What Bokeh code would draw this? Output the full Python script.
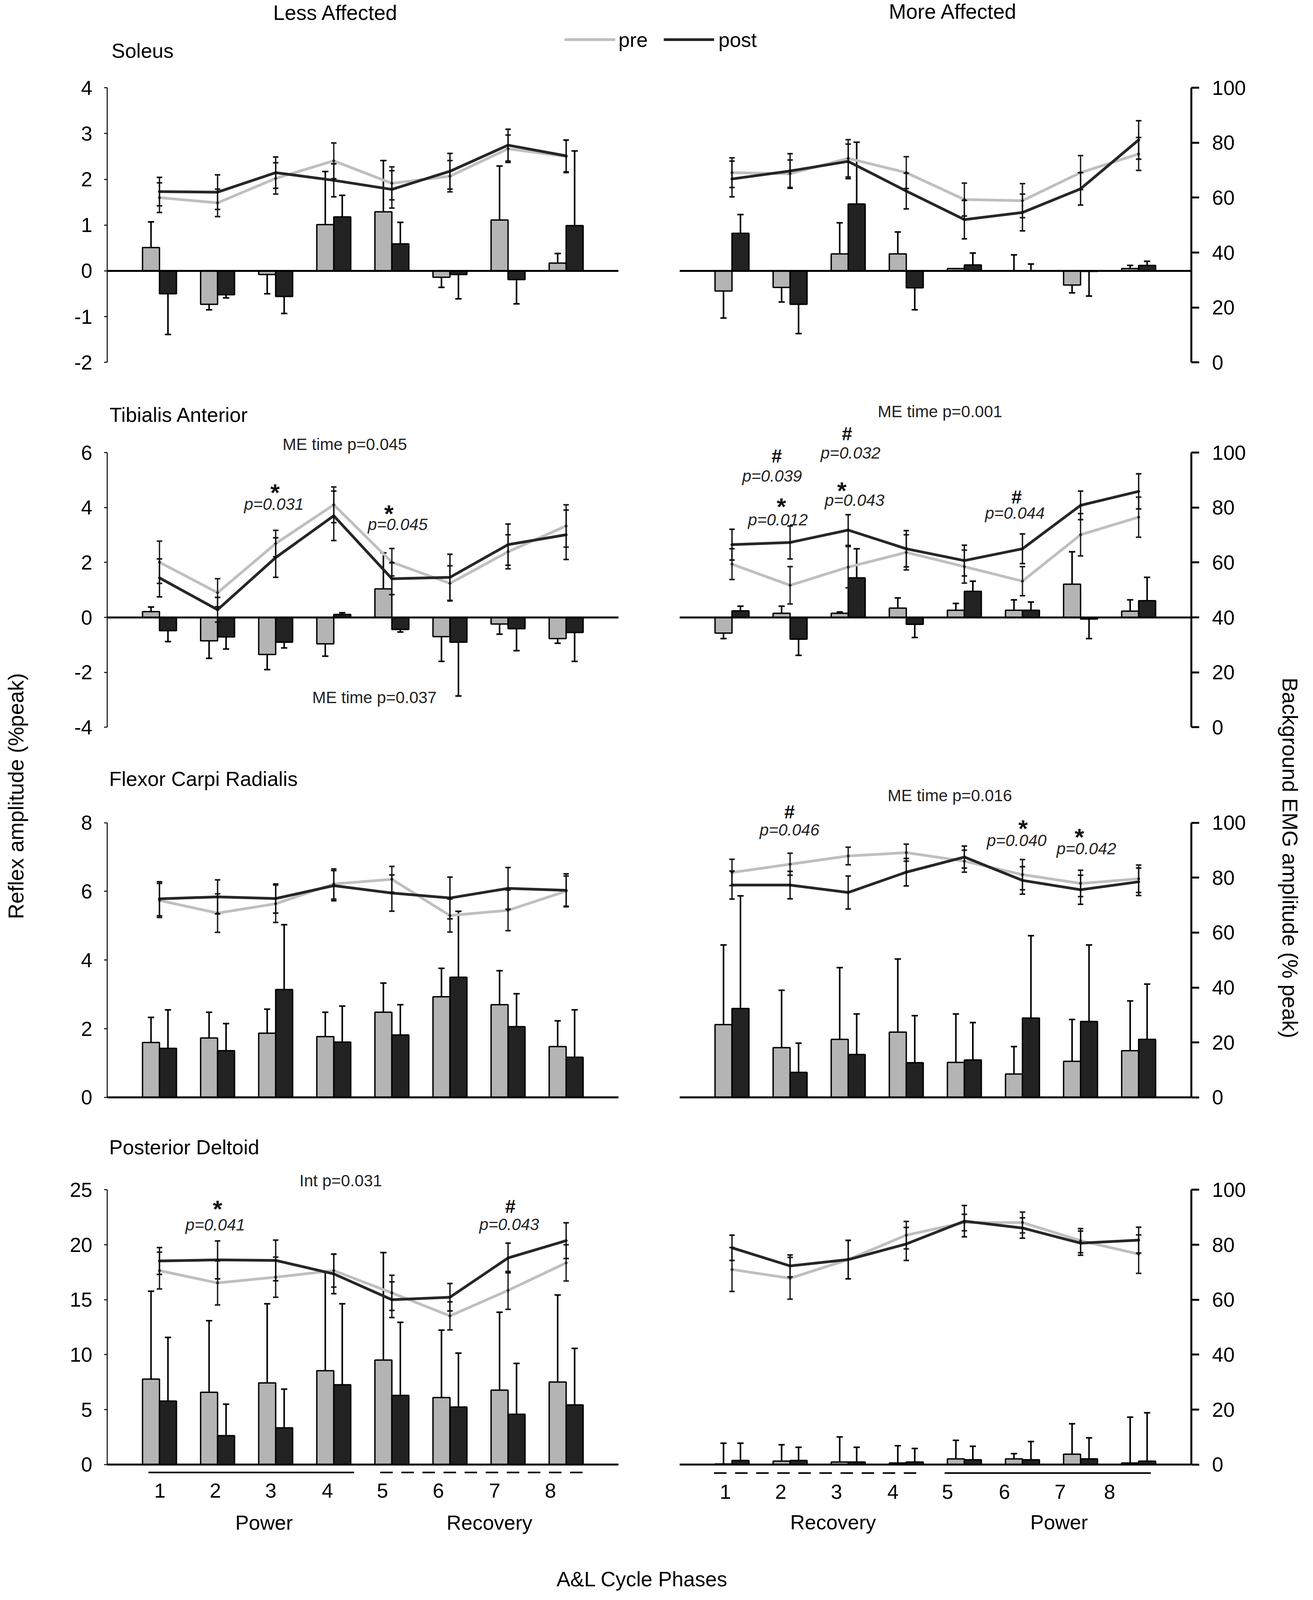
import math
from bokeh.plotting import figure
from bokeh.models import (Range1d, LinearAxis, FixedTicker, Whisker, TeeHead,
                          ColumnDataSource, Label, Arrow)
from bokeh.layouts import row, column
from bokeh.embed import file_html
from bokeh.resources import INLINE

# ---------------- data ----------------
PHASES = [1, 2, 3, 4, 5, 6, 7, 8]
PHASE_LABELS = ["1", "2", "3", "4", "5", "6", "7", "8"]
EMG_TICKS = [0, 20, 40, 60, 80, 100]

# Soleus - less affected
SOL_LA_PRE_BAR = [0.51, -0.73, -0.08, 1.01, 1.29, -0.14, 1.11, 0.17]
SOL_LA_PRE_ERR = [0.56, -0.12, -0.42, 1.16, 1.12, -0.22, 1.18, 0.21]
SOL_LA_POST_BAR = [-0.50, -0.52, -0.56, 1.18, 0.59, -0.08, -0.19, 0.99]
SOL_LA_POST_ERR = [-0.89, -0.07, -0.37, 0.47, 0.47, -0.53, -0.53, 1.63]
SOL_LA_PRE_EMG = [60.0, 58.1, 67.0, 73.4, 65.2, 67.8, 77.8, 75.0]
SOL_LA_PRE_EMG_ERR = [5.4, 5.0, 5.7, 6.5, 6.0, 5.7, 5.0, 5.9]
SOL_LA_POST_EMG = [62.2, 62.0, 69.1, 66.3, 63.0, 69.6, 79.1, 75.2]
SOL_LA_POST_EMG_ERR = [5.2, 6.3, 5.7, 6.0, 6.8, 6.5, 5.8, 5.8]

# Soleus - more affected
SOL_MA_PRE_BAR = [-0.44, -0.36, 0.37, 0.37, 0.05, 0.0, -0.31, 0.05]
SOL_MA_PRE_ERR = [-0.59, -0.32, 0.68, 0.48, 0.0, 0.35, -0.17, 0.07]
SOL_MA_POST_BAR = [0.82, -0.73, 1.46, -0.37, 0.13, 0.0, -0.01, 0.12]
SOL_MA_POST_ERR = [0.41, -0.64, 1.35, -0.48, 0.26, 0.15, -0.54, 0.09]
SOL_MA_PRE_EMG = [69.1, 68.7, 74.3, 69.1, 59.3, 58.9, 69.1, 75.9]
SOL_MA_PRE_EMG_ERR = [5.4, 5.0, 6.8, 5.8, 6.0, 6.2, 6.2, 6.0]
SOL_MA_POST_EMG = [66.8, 69.7, 73.2, 62.4, 52.0, 54.6, 63.2, 81.0]
SOL_MA_POST_EMG_ERR = [6.5, 6.3, 6.3, 6.5, 7.0, 6.7, 5.9, 7.0]

# Tibialis anterior - less affected
TA_LA_PRE_BAR = [0.21, -0.85, -1.35, -0.96, 1.04, -0.70, -0.24, -0.77]
TA_LA_PRE_ERR = [0.17, -0.64, -0.55, -0.45, 1.31, -0.90, -0.37, -0.17]
TA_LA_POST_BAR = [-0.48, -0.71, -0.90, 0.11, -0.44, -0.90, -0.41, -0.55]
TA_LA_POST_ERR = [-0.40, -0.44, -0.21, 0.06, -0.09, -1.96, -0.80, -1.05]
TA_LA_PRE_EMG = [60.1, 49.0, 66.9, 81.0, 60.1, 52.4, 63.9, 73.3]
TA_LA_PRE_EMG_ERR = [7.7, 5.1, 4.8, 6.5, 5.0, 6.4, 6.2, 7.7]
TA_LA_POST_EMG = [54.4, 42.8, 61.8, 77.0, 54.1, 54.6, 66.5, 70.1]
TA_LA_POST_EMG_ERR = [6.9, 4.5, 7.2, 9.0, 5.8, 8.4, 7.5, 9.0]

# Tibialis anterior - more affected
TA_MA_PRE_BAR = [-0.57, 0.15, 0.15, 0.34, 0.26, 0.26, 1.21, 0.23]
TA_MA_PRE_ERR = [-0.20, 0.26, 0.05, 0.37, 0.25, 0.38, 1.18, 0.41]
TA_MA_POST_BAR = [0.24, -0.79, 1.44, -0.25, 0.95, 0.26, -0.06, 0.61]
TA_MA_POST_ERR = [0.17, -0.59, 1.06, -0.48, 0.37, 0.30, -0.71, 0.85]
TA_MA_PRE_EMG = [59.4, 51.7, 58.3, 63.7, 58.5, 53.2, 70.1, 76.5]
TA_MA_PRE_EMG_ERR = [5.6, 6.8, 7.5, 6.4, 6.0, 5.3, 7.7, 7.3]
TA_MA_POST_EMG = [66.5, 67.3, 71.8, 65.0, 60.7, 65.0, 80.8, 85.9]
TA_MA_POST_EMG_ERR = [5.6, 6.0, 5.6, 6.6, 5.6, 5.4, 5.2, 6.4]

# Flexor carpi radialis - less affected
FCR_LA_PRE_BAR = [1.60, 1.73, 1.87, 1.77, 2.48, 2.93, 2.70, 1.48]
FCR_LA_PRE_ERR = [0.73, 0.75, 0.70, 0.71, 0.85, 0.83, 0.99, 0.75]
FCR_LA_POST_BAR = [1.43, 1.36, 3.14, 1.61, 1.82, 3.50, 2.06, 1.17]
FCR_LA_POST_ERR = [1.12, 0.79, 1.89, 1.05, 0.88, 1.92, 0.96, 1.38]
FCR_LA_PRE_EMG = [71.7, 67.1, 70.5, 77.7, 79.4, 66.2, 68.1, 75.1]
FCR_LA_PRE_EMG_ERR = [6.2, 7.0, 6.8, 5.5, 4.7, 6.0, 7.4, 5.5]
FCR_LA_POST_EMG = [72.3, 73.0, 72.4, 77.1, 74.4, 72.6, 76.1, 75.4]
FCR_LA_POST_EMG_ERR = [6.2, 6.2, 5.3, 5.5, 6.6, 7.6, 7.6, 6.0]

# Flexor carpi radialis - more affected
FCR_MA_PRE_BAR = [2.12, 1.45, 1.69, 1.90, 1.02, 0.68, 1.05, 1.36]
FCR_MA_PRE_ERR = [2.32, 1.67, 2.09, 2.13, 1.41, 0.80, 1.22, 1.45]
FCR_MA_POST_BAR = [2.59, 0.73, 1.25, 1.01, 1.09, 2.31, 2.21, 1.69]
FCR_MA_POST_ERR = [3.28, 0.85, 1.18, 1.37, 1.09, 2.40, 2.23, 1.61]
FCR_MA_PRE_EMG = [81.9, 84.9, 87.9, 89.1, 86.0, 81.1, 77.9, 79.6]
FCR_MA_PRE_EMG_ERR = [4.8, 4.0, 3.2, 3.1, 4.0, 5.5, 4.8, 5.0]
FCR_MA_POST_EMG = [77.3, 77.3, 74.6, 82.0, 87.5, 79.0, 75.6, 78.5]
FCR_MA_POST_EMG_ERR = [5.1, 5.0, 6.0, 5.0, 4.0, 5.0, 5.3, 5.0]

# Posterior deltoid - less affected
PD_LA_PRE_BAR = [7.77, 6.57, 7.43, 8.54, 9.51, 6.09, 6.77, 7.51]
PD_LA_PRE_ERR = [8.0, 6.52, 7.2, 8.95, 9.78, 6.14, 7.09, 7.92]
PD_LA_POST_BAR = [5.77, 2.63, 3.34, 7.26, 6.29, 5.23, 4.57, 5.43]
PD_LA_POST_ERR = [5.8, 2.86, 3.52, 7.37, 6.65, 4.91, 4.63, 5.14]
PD_LA_PRE_EMG = [70.6, 66.1, 68.2, 70.6, 62.5, 54.1, 63.4, 73.4]
PD_LA_PRE_EMG_ERR = [6.7, 8.0, 7.3, 6.0, 6.4, 5.1, 6.9, 6.6]
PD_LA_POST_EMG = [74.1, 74.5, 74.3, 69.4, 60.0, 60.9, 75.2, 81.5]
PD_LA_POST_EMG_ERR = [4.9, 6.9, 7.4, 7.2, 6.5, 5.0, 5.4, 6.5]

# Posterior deltoid - more affected
PD_MA_PRE_BAR = [0.05, 0.31, 0.23, 0.14, 0.51, 0.51, 0.94, 0.14]
PD_MA_PRE_ERR = [1.89, 1.49, 2.28, 1.57, 1.69, 0.48, 2.77, 4.17]
PD_MA_POST_BAR = [0.37, 0.37, 0.23, 0.23, 0.43, 0.43, 0.51, 0.31]
PD_MA_POST_ERR = [1.57, 1.20, 1.34, 1.23, 1.23, 1.66, 1.92, 4.40]
PD_MA_PRE_EMG = [71.0, 67.8, 74.6, 83.5, 88.1, 88.1, 81.5, 76.6]
PD_MA_PRE_EMG_ERR = [8.0, 7.6, 7.0, 5.0, 3.0, 3.8, 4.4, 7.0]
PD_MA_POST_EMG = [78.9, 72.3, 74.6, 80.3, 88.6, 86.1, 80.6, 81.7]
PD_MA_POST_EMG_ERR = [4.6, 4.0, 7.0, 6.0, 5.7, 3.7, 4.4, 4.7]

# statistics annotations: (text, x, y, kind); y on reflex axis (LA) or EMG axis (MA)
TA_LA_NOTES = [("ME time p=0.045", 4.19, 6.30, "plain"), ("*", 2.99, 4.55, "star"),
               ("p=0.031", 2.97, 4.12, "ital"), ("*", 4.95, 3.78, "star"),
               ("p=0.045", 5.10, 3.38, "ital"), ("ME time p=0.037", 4.70, -2.92, "plain")]
TA_MA_NOTES = [("ME time p=0.001", 4.58, 114.9, "plain"), ("#", 2.98, 106.8, "hash"),
               ("p=0.032", 3.04, 99.9, "ital"), ("#", 1.77, 98.8, "hash"),
               ("p=0.039", 1.69, 91.5, "ital"), ("*", 2.89, 86.2, "star"),
               ("p=0.043", 3.11, 82.7, "ital"), ("*", 1.85, 80.4, "star"),
               ("p=0.012", 1.79, 75.6, "ital"), ("#", 5.90, 83.8, "hash"),
               ("p=0.044", 5.87, 78.0, "ital")]
FCR_MA_NOTES = [("ME time p=0.016", 4.75, 109.9, "plain"), ("#", 1.99, 103.95, "hash"),
                ("p=0.046", 1.99, 97.4, "ital"), ("*", 6.01, 98.0, "star"),
                ("p=0.040", 5.90, 93.5, "ital"), ("*", 6.98, 94.8, "star"),
                ("p=0.042", 7.10, 90.6, "ital")]
PD_LA_NOTES = [("Int p=0.031", 4.12, 25.82, "plain"), ("*", 2.0, 23.27, "star"),
               ("p=0.041", 1.96, 21.8, "ital"), ("#", 7.04, 23.5, "hash"),
               ("p=0.043", 7.02, 21.87, "ital")]

# ---------------- style / geometry ----------------
FONT = "Liberation Sans"
PRE_FILL = "#b4b4b4"
POST_FILL = "#222222"
PRE_LINE = "#bfbfbf"
POST_LINE = "#262626"
BAR_OFF = 0.146
BAR_W = 0.292
VS = 0.958                # vertical compression so the whole page fits the visible window
PX_PER_X = 148.75         # pixels per phase
X0 = 0.1
RIGHT_OFF = 9.855         # x shift of the "More Affected" panel inside a row figure
ROW_W = 3120
X_END = X0 + (ROW_W - 344) / PX_PER_X
FRAME_H = 734 * VS


def py(y):
    """page y of a reference-layout y"""
    return 8 + (y - 8) * VS


ROW_EDGES = [round(py(v)) for v in (8, 1040, 2030, 3010, 4260)]
FRAME_TOPS = [py(v) for v in (242, 1217, 2206, 3187)]


def add_label(p, x, y, text, size="43px", style="normal", align="center", rng="default",
              angle=0.0, color="#111111"):
    p.add_layout(Label(x=x, y=y, text=text, text_font=FONT, text_font_size=size,
                       text_font_style=style, text_align=align, text_baseline="middle",
                       y_range_name=rng, angle=angle, text_color=color))


def add_notes(p, notes, rng, xoff=0.0):
    for text, x, y, kind in notes:
        if kind == "plain":
            add_label(p, x + xoff, y, text, "42px", "normal", rng=rng, color="#222222")
        elif kind == "ital":
            add_label(p, x + xoff, y, text, "42px", "italic", rng=rng, color="#222222")
        elif kind == "star":
            add_label(p, x + xoff, y, text, "62px", "bold", rng=rng, color="#111111")
        else:
            add_label(p, x + xoff, y, text, "48px", "bold", rng=rng, color="#111111")


def bar_errors(p, xs, vals, deltas):
    up = [(x, v, v + d) for x, v, d in zip(xs, vals, deltas) if d > 0]
    dn = [(x, v + d, v) for x, v, d in zip(xs, vals, deltas) if d < 0]
    for pts, is_up in ((up, True), (dn, False)):
        if not pts:
            continue
        src = ColumnDataSource(dict(x=[u[0] for u in pts], lower=[u[1] for u in pts],
                                    upper=[u[2] for u in pts]))
        head = TeeHead(size=16, line_width=4, line_color="black")
        p.add_layout(Whisker(source=src, base="x", lower="lower", upper="upper",
                             dimension="height", line_width=4, line_color="black",
                             upper_head=head if is_up else None,
                             lower_head=None if is_up else head))


def line_errors(p, xs, vals, errs, color):
    src = ColumnDataSource(dict(x=xs, lower=[v - e for v, e in zip(vals, errs)],
                                upper=[v + e for v, e in zip(vals, errs)]))
    p.add_layout(Whisker(source=src, base="x", lower="lower", upper="upper",
                         dimension="height", y_range_name="emg", level="annotation",
                         line_width=3.5, line_color=color,
                         upper_head=TeeHead(size=14, line_width=4, line_color=color),
                         lower_head=TeeHead(size=14, line_width=4, line_color=color)))


def draw_panel(p, xoff, pre_bar, pre_err, post_bar, post_err,
               pre_emg, pre_emg_err, post_emg, post_emg_err):
    xs = [c + xoff for c in PHASES]
    xs_pre = [c - BAR_OFF for c in xs]
    xs_post = [c + BAR_OFF for c in xs]
    p.vbar(x=xs_pre, top=pre_bar, bottom=0, width=BAR_W, fill_color=PRE_FILL,
           line_color="black", line_width=3.5)
    p.vbar(x=xs_post, top=post_bar, bottom=0, width=BAR_W, fill_color=POST_FILL,
           line_color="black", line_width=3.5)
    bar_errors(p, xs_pre, pre_bar, pre_err)
    bar_errors(p, xs_post, post_bar, post_err)
    # zero line of the reflex axis across the panel
    p.segment(x0=[X0 + xoff], y0=[0], x1=[X0 + 8.8 + xoff], y1=[0],
              line_color="black", line_width=5)
    p.line(xs, pre_emg, y_range_name="emg", line_color=PRE_LINE, line_width=7)
    p.line(xs, post_emg, y_range_name="emg", line_color=POST_LINE, line_width=7)
    line_errors(p, xs, pre_emg, pre_emg_err, "#1e1e1e")
    line_errors(p, xs, post_emg, post_emg_err, "#111111")
    p.scatter(xs, pre_emg, y_range_name="emg", marker="diamond", size=11, color="#333333")
    p.scatter(xs, post_emg, y_range_name="emg", marker="diamond", size=11, color="#111111")


def extend(lo, hi, top, bottom, frame_top):
    upx = FRAME_H / (hi - lo)
    return (lo - (bottom - frame_top - FRAME_H) / upx, hi + (frame_top - top) / upx)


def make_row(i, yr, yticks, la, ma):
    top, bottom, frame_top = ROW_EDGES[i], ROW_EDGES[i + 1], FRAME_TOPS[i]
    ys = extend(yr[0], yr[1], top, bottom, frame_top)
    es = extend(0, 100, top, bottom, frame_top)
    p = figure(width=ROW_W, height=bottom - top, x_range=Range1d(X0, X_END),
               y_range=Range1d(*ys), x_axis_location=None, y_axis_location="left",
               toolbar_location=None, output_backend="svg",
               min_border_left=172, min_border_right=172, min_border_top=0,
               min_border_bottom=0, outline_line_color=None,
               background_fill_color="white", border_fill_color="white")
    p.extra_y_ranges = {"emg": Range1d(*es)}
    p.grid.visible = False
    lax = p.yaxis[0]
    lax.ticker = FixedTicker(ticks=yticks)
    lax.bounds = yr
    lax.major_label_overrides = {t: "-%d" % (-t) for t in yticks if t < 0}
    lax.axis_line_width = 2.5
    lax.major_tick_out = 8
    lax.major_tick_line_width = 2.5
    lax.major_label_standoff = 30
    rax = LinearAxis(y_range_name="emg", ticker=FixedTicker(ticks=EMG_TICKS), bounds=(0, 100))
    rax.axis_line_width = 5
    rax.major_tick_out = 20
    rax.major_tick_line_width = 5
    rax.major_label_standoff = 33
    p.add_layout(rax, "right")
    for ax in (lax, rax):
        ax.major_tick_in = 0
        ax.minor_tick_line_color = None
        ax.axis_line_color = "black"
        ax.major_tick_line_color = "black"
        ax.major_label_text_font = FONT
        ax.major_label_text_font_size = "52px"
        ax.major_label_text_color = "black"
    draw_panel(p, 0.0, *la)
    draw_panel(p, RIGHT_OFF, *ma)
    return p


r1 = make_row(0, (-2, 4), [-2, -1, 0, 1, 2, 3, 4],
              (SOL_LA_PRE_BAR, SOL_LA_PRE_ERR, SOL_LA_POST_BAR, SOL_LA_POST_ERR,
               SOL_LA_PRE_EMG, SOL_LA_PRE_EMG_ERR, SOL_LA_POST_EMG, SOL_LA_POST_EMG_ERR),
              (SOL_MA_PRE_BAR, SOL_MA_PRE_ERR, SOL_MA_POST_BAR, SOL_MA_POST_ERR,
               SOL_MA_PRE_EMG, SOL_MA_PRE_EMG_ERR, SOL_MA_POST_EMG, SOL_MA_POST_EMG_ERR))
r2 = make_row(1, (-4, 6), [-4, -2, 0, 2, 4, 6],
              (TA_LA_PRE_BAR, TA_LA_PRE_ERR, TA_LA_POST_BAR, TA_LA_POST_ERR,
               TA_LA_PRE_EMG, TA_LA_PRE_EMG_ERR, TA_LA_POST_EMG, TA_LA_POST_EMG_ERR),
              (TA_MA_PRE_BAR, TA_MA_PRE_ERR, TA_MA_POST_BAR, TA_MA_POST_ERR,
               TA_MA_PRE_EMG, TA_MA_PRE_EMG_ERR, TA_MA_POST_EMG, TA_MA_POST_EMG_ERR))
r3 = make_row(2, (0, 8), [0, 2, 4, 6, 8],
              (FCR_LA_PRE_BAR, FCR_LA_PRE_ERR, FCR_LA_POST_BAR, FCR_LA_POST_ERR,
               FCR_LA_PRE_EMG, FCR_LA_PRE_EMG_ERR, FCR_LA_POST_EMG, FCR_LA_POST_EMG_ERR),
              (FCR_MA_PRE_BAR, FCR_MA_PRE_ERR, FCR_MA_POST_BAR, FCR_MA_POST_ERR,
               FCR_MA_PRE_EMG, FCR_MA_PRE_EMG_ERR, FCR_MA_POST_EMG, FCR_MA_POST_EMG_ERR))
r4 = make_row(3, (0, 25), [0, 5, 10, 15, 20, 25],
              (PD_LA_PRE_BAR, PD_LA_PRE_ERR, PD_LA_POST_BAR, PD_LA_POST_ERR,
               PD_LA_PRE_EMG, PD_LA_PRE_EMG_ERR, PD_LA_POST_EMG, PD_LA_POST_EMG_ERR),
              (PD_MA_PRE_BAR, PD_MA_PRE_ERR, PD_MA_POST_BAR, PD_MA_POST_ERR,
               PD_MA_PRE_EMG, PD_MA_PRE_EMG_ERR, PD_MA_POST_EMG, PD_MA_POST_EMG_ERR))

# column headings, legend and panel titles
add_label(r1, 4.033, 5.643, "Less Affected", "53px", color="black")
add_label(r1, 14.661, 5.668, "More Affected", "53px", color="black")
add_label(r1, 0.174, 4.805, "Soleus", "52px", align="left", color="black")
r1.segment(x0=[7.972, 9.680], y0=[5.05, 5.05], x1=[8.846, 10.547], y1=[5.05, 5.05],
           line_color=[PRE_LINE, POST_LINE], line_width=7)
add_label(r1, 8.900, 5.05, "pre", "52px", align="left", color="black")
add_label(r1, 10.621, 5.05, "post", "52px", align="left", color="black")
add_label(r2, 0.14, 7.38, "Tibialis Anterior", "52px", align="left", color="black")
add_label(r3, 0.134, 9.275, "Flexor Carpi Radialis", "52px", align="left", color="black")
add_label(r4, 0.134, 28.88, "Posterior Deltoid", "52px", align="left", color="black")

add_notes(r2, TA_LA_NOTES, "default")
add_notes(r2, TA_MA_NOTES, "emg", RIGHT_OFF)
add_notes(r3, FCR_MA_NOTES, "emg", RIGHT_OFF)
add_notes(r4, PD_LA_NOTES, "default")

# phase markings under the bottom panels
LA_NUM_X = [1.008, 1.962, 2.917, 3.892, 4.84, 5.80, 6.77, 7.73]
MA_NUM_X = [0.887, 1.84, 2.80, 3.77, 4.71, 5.69, 6.65, 7.50]
for xv, t in zip(LA_NUM_X, PHASE_LABELS):
    add_label(r4, xv, -2.38, t, "52px", color="black")
for xv, t in zip(MA_NUM_X, PHASE_LABELS):
    add_label(r4, xv + RIGHT_OFF, -2.49, t, "52px", color="black")
r4.add_layout(Arrow(x_start=0.81, y_start=-0.72, x_end=4.35, y_end=-0.72, end=None,
                    line_width=4, line_color="black"))
r4.add_layout(Arrow(x_start=4.80, y_start=-0.72, x_end=8.34, y_end=-0.72, end=None,
                    line_width=4, line_color="black", line_dash="32 22"))
r4.add_layout(Arrow(x_start=0.69 + RIGHT_OFF, y_start=-0.78, x_end=4.25 + RIGHT_OFF,
                    y_end=-0.78, end=None, line_width=4, line_color="black",
                    line_dash="32 22"))
r4.add_layout(Arrow(x_start=4.66 + RIGHT_OFF, y_start=-0.78, x_end=8.21 + RIGHT_OFF,
                    y_end=-0.78, end=None, line_width=4, line_color="black"))
add_label(r4, 2.80, -5.28, "Power", "52px", color="black")
add_label(r4, 6.68, -5.28, "Recovery", "52px", color="black")
add_label(r4, 2.74 + RIGHT_OFF, -5.25, "Recovery", "52px", color="black")
add_label(r4, 6.63 + RIGHT_OFF, -5.25, "Power", "52px", color="black")
add_label(r4, 9.31, -10.42, "A&L Cycle Phases", "53px", color="black")


def blank(w, h):
    p = figure(width=w, height=h, x_range=Range1d(0, w), y_range=Range1d(0, h),
               x_axis_location=None, y_axis_location=None, toolbar_location=None,
               output_backend="svg", min_border=0, outline_line_color=None,
               background_fill_color="white", border_fill_color="white")
    p.grid.visible = False
    return p


TOTAL_H = ROW_EDGES[-1] - ROW_EDGES[0]
left_lab = blank(102, TOTAL_H)
add_label(left_lab, 40, ROW_EDGES[-1] - py(2135), "Reflex amplitude (%peak)", "55px",
          angle=math.pi / 2, color="black")
right_lab = blank(122, TOTAL_H)
add_label(right_lab, 80, ROW_EDGES[-1] - py(2300), "Background EMG amplitude (% peak)", "55px",
          angle=-math.pi / 2, color="black")

layout = row(left_lab, column(r1, r2, r3, r4), right_lab)

open("out.html", "w").write(file_html(layout, INLINE))
